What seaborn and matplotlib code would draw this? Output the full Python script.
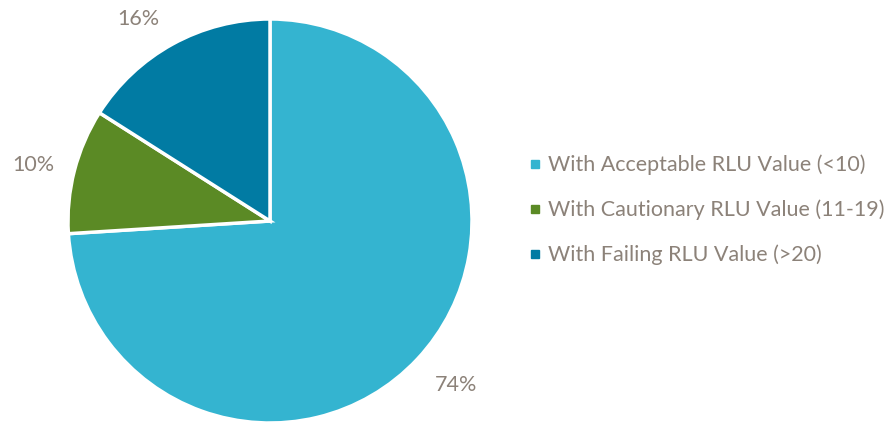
import matplotlib
matplotlib.use("Agg")
import matplotlib.pyplot as plt
from matplotlib.lines import Line2D
import numpy as np
import seaborn as sns

categories = ["With Acceptable RLU Value (<10)",
              "With Cautionary RLU Value (11-19)",
              "With Failing RLU Value (>20)"]
values = [74, 10, 16]
colors = ["#34B4D0", "#5B8A25", "#017BA3"]

sns.set_theme(style="white")
plt.rcParams['font.family'] = ['Lato', 'DejaVu Sans']

W, H = 891, 424
fig = plt.figure(figsize=(W / 100, H / 100), dpi=100)
cx, cy, r = 270, 221, 202
ax = fig.add_axes([(cx - r) / W, (H - cy - r) / H, 2 * r / W, 2 * r / H])

wedges, texts, autotexts = ax.pie(
    values, colors=colors, startangle=90, counterclock=False,
    autopct=lambda p: f"{p:.0f}%", pctdistance=1.21,
    wedgeprops=dict(edgecolor="white", linewidth=2.5),
    textprops=dict(color="#8C8279", fontsize=15.5))

# Excel-like "best fit" label placement: small angular nudges
label_dist = [1.228, 1.205, 1.193]
label_nudge = [1.8, 1.1, 4.4]
for w, t, d, n in zip(wedges, autotexts, label_dist, label_nudge):
    ang = np.deg2rad((w.theta1 + w.theta2) / 2 + n)
    t.set_position((d * np.cos(ang), d * np.sin(ang)))

ax.set_aspect("equal")
ax.set_xlim(-1, 1)
ax.set_ylim(-1, 1)
ax.axis("off")

handles = [Line2D([0], [0], marker="s", linestyle="none", markersize=6,
                  markerfacecolor=c, markeredgecolor=c) for c in colors]
leg = fig.legend(handles, categories, loc="center left",
                 bbox_to_anchor=(508 / W, (H - 210) / H),
                 frameon=False, fontsize=15.5, labelspacing=1.14,
                 handletextpad=0.25, handlelength=0.7,
                 labelcolor="#8C8279")

fig.savefig("out.png", dpi=100)
